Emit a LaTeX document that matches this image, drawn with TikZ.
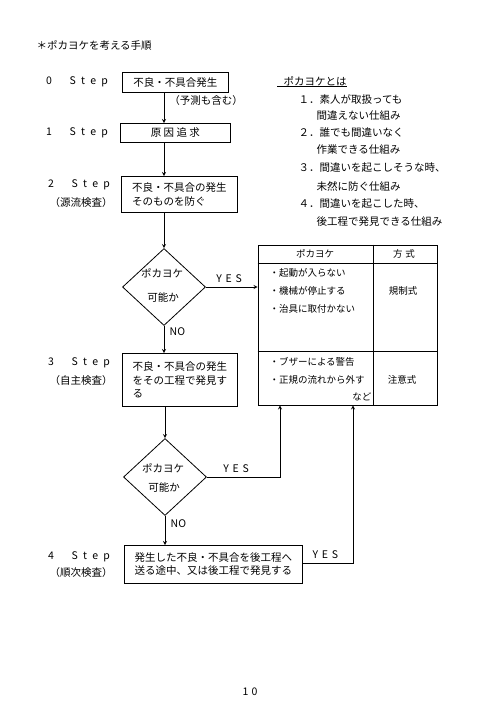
\documentclass[tikz,border=0pt]{standalone}
\usepackage{fontspec}
\setmainfont{Noto Sans CJK JP}
\usetikzlibrary{shapes.geometric}
\newcommand{\stepno}[1]{#1\hspace{1.7em}S\hspace{.5em}t\hspace{.5em}e\hspace{.5em}p}
\newcommand{\yes}{Y\hspace{.35em}E\hspace{.35em}S}

\begin{document}
\begin{tikzpicture}[x=1pt,y=-1pt,>=stealth,
  every node/.style={font=\fontsize{10.5}{12}\selectfont},
  box/.style={draw,thick,inner sep=4pt,align=left,anchor=north west},
  decision/.style={draw,thick,diamond,inner sep=0pt,minimum width=83pt,minimum height=77pt},
  steplabel/.style={anchor=center},
  item/.style={anchor=west,font=\fontsize{9.5}{11}\selectfont},
  flow/.style={thick,->}]
\useasboundingbox (0,0) rectangle (500,716);
\node [anchor=west] (title) at (33,45) {＊ポカヨケを考える手順};
%steps
\node [steplabel] (s0) at (77,82) {\stepno{0}};
\node [steplabel] (s1) at (77,133) {\stepno{1}};
\node [steplabel] (s2) at (79,185) {\stepno{2}};
\node [steplabel] (s2b) at (81,203) {（源流検査）};
\node [steplabel] (s3) at (79,363) {\stepno{3}};
\node [steplabel] (s3b) at (81,381) {（自主検査）};
\node [steplabel] (s4) at (79,557) {\stepno{4}};
\node [steplabel] (s4b) at (81,573) {（順次検査）};
%boxes
\node [box,minimum width=106pt,minimum height=20pt] (b0) at (122,72) {不良・不具合発生};
\node [anchor=center] (b0n) at (206,101) {（予測も含む）};
\node [box,minimum width=110pt,minimum height=19pt,inner ysep=2pt] (b1) at (120,123) {原 因 追 求};
\node [box,minimum width=116pt,minimum height=36pt,inner ysep=1pt] (b2) at (121,176) {不良・不具合の発生\\[2pt]そのものを防ぐ};
\node [box,minimum width=115pt,minimum height=53pt,inner ysep=1pt] (b3) at (122,353) {不良・不具合の発生\\[2pt]をその工程で発見す\\[1pt]る};
\node [box,minimum width=178pt,minimum height=38pt,inner ysep=2pt] (b4) at (124,545) {発生した不良・不具合を後工程へ\\[1pt]送る途中、又は後工程で発見する};
%decisions
\node [decision] (d1) at (164,287) {};
\node (d1a) at (162,273) {ポカヨケ};
\node (d1b) at (163,297) {可能か};
\node [decision] (d2) at (165,477) {};
\node (d2a) at (163,468) {ポカヨケ};
\node (d2b) at (164,487) {可能か};
%table
\node [draw,thick,minimum width=179pt,minimum height=160pt,inner sep=0pt] (tbl) at (347.5,325) {};
\draw [thick] (tbl.west |- 0,263) -- (tbl.east |- 0,263);
\draw [thick] (373,0 |- tbl.north) -- (373,0 |- tbl.south);
\draw [thick] (tbl.west |- 0,351) -- (tbl.east |- 0,351);
\node [item,anchor=center] (h1) at (315,254) {ポカヨケ};
\node [item,anchor=center] (h2) at (404,254) {方\hspace{.3em}式};
\node [item] (r1) at (266,273) {・起動が入らない};
\node [item] (r2) at (266,291) {・機械が停止する};
\node [item] (r3) at (266,309) {・治具に取付かない};
\node [item,anchor=center] (m1) at (403,291) {規制式};
\node [item] (r4) at (266,362) {・ブザーによる警告};
\node [item] (r5) at (266,380) {・正規の流れから外す};
\node [item,anchor=east] (r6) at (375,397) {など};
\node [item,anchor=center] (m2) at (402,380) {注意式};
%list
\node [anchor=west] (lt) at (280,81) {ポカヨケとは};
\draw [thick] (277,86) -- (347,86);
\node [anchor=west] (l1) at (295,99) {１．素人が取扱っても};
\node [anchor=west] (l1b) at (313,116) {間違えない仕組み};
\node [anchor=west] (l2) at (295,133) {２．誰でも間違いなく};
\node [anchor=west] (l2b) at (313,150) {作業できる仕組み};
\node [anchor=west] (l3) at (295,168) {３．間違いを起こしそうな時、};
\node [anchor=west] (l3b) at (313,186) {未然に防ぐ仕組み};
\node [anchor=west] (l4) at (295,204) {４．間違いを起こした時、};
\node [anchor=west] (l4b) at (313,222) {後工程で発見できる仕組み};
%connectors
\coordinate (c1) at (280,477);
\coordinate (c2) at (353,563);
\draw [flow] (b0.south -| d1.north) -- (b1.north -| d1.north);
\draw [flow] (b1.south -| d1.north) -- (b2.north -| d1.north);
\draw [flow] (b2.south -| d1.north) -- (d1.north);
\draw [flow] (d1.east) -- (d1.east -| tbl.west) node [pos=.45,above=1pt] {\yes};
\draw [flow] (d1.south) -- (b3.north -| d1.south) node [pos=.2,right=2pt] {NO};
\draw [flow] (b3.south -| d2.north) -- (d2.north);
\draw [flow] (d2.east) -- (d2.east -| c1) node [pos=.4,above=1pt] {\yes} -- (c1 |- tbl.south);
\draw [flow] (d2.south) -- (b4.north -| d2.south) node [pos=.25,right=2pt] {NO};
\draw [flow] (b4.east |- c2) -- (c2) node [pos=.45,above=1pt] {\yes} -- (c2 |- tbl.south);
\node (pg) at (250,692) {1\hspace{.3em}0};
\end{tikzpicture}
\end{document}
